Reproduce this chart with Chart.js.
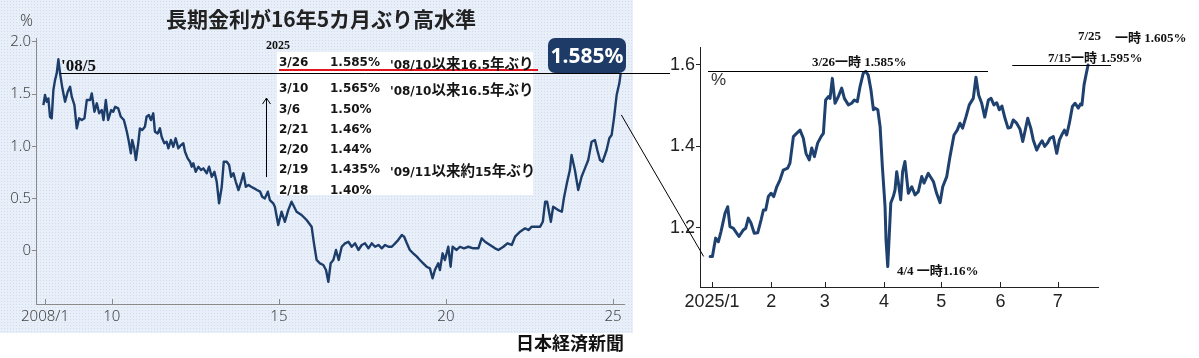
<!DOCTYPE html>
<html><head><meta charset="utf-8">
<script src="https://cdn.jsdelivr.net/npm/chart.js@4.4.1/dist/chart.umd.min.js"></script>
<style>
html,body{margin:0;padding:0;background:#fff;width:1199px;height:358px;overflow:hidden;position:relative}
.abs{position:absolute;white-space:nowrap}
#bgL{left:0;top:0;width:633px;height:333px;background-color:#e8eff9;
 background-image:radial-gradient(#d0dcef 0.8px,transparent 0.9px);background-size:3px 3px;z-index:0}
#wrapL{left:0;top:0;z-index:1}
#wrapR{left:640px;top:0;z-index:1}
#tbl{left:277px;top:52px;width:256px;height:143px;background:#fff;z-index:2}
#redline{left:279px;top:69px;width:259px;height:2px;background:#e3161d;z-index:3}
#box{left:548px;top:38px;width:78px;height:35px;border-radius:7px;background:#1d3b66;color:#fff;
 font:bold 21px 'Noto Sans','DejaVu Sans',sans-serif;text-align:center;line-height:35px;z-index:3}
#ov{position:absolute;left:0;top:0;z-index:6;pointer-events:none}
.lbl{z-index:4;transform:translateY(-50%)}
.ser{font-family:'Liberation Serif','Noto Sans CJK JP',serif;font-weight:bold;color:#111}
.tb{font-family:'DejaVu Sans','Noto Sans CJK JP',sans-serif;font-weight:bold;font-size:12px;color:#151515}
.cj{font-size:14.5px;font-family:'Noto Sans CJK JP',sans-serif;font-weight:bold}
</style></head>
<body>
<div id="bgL" class="abs"></div>
<div id="wrapL" class="abs"><canvas id="cL" width="640" height="340"></canvas></div>
<div id="wrapR" class="abs"><canvas id="cR" width="559" height="320"></canvas></div>
<div id="tbl" class="abs"></div>
<div id="redline" class="abs"></div>
<div id="box" class="abs">1.585%</div>
<canvas id="ov" width="1199" height="358"></canvas>
<script>
// ---------------- data ----------------
// Left chart: 10-year JGB yield, 2008 - 2025 (decimal year, %)
const leftYears = [
2007.95,2008.00,2008.05,2008.10,2008.15,2008.20,2008.25,2008.30,2008.35,2008.40,
2008.45,2008.52,2008.60,2008.68,2008.75,2008.80,2008.88,2008.95,2009.02,2009.10,
2009.18,2009.25,2009.35,2009.40,2009.48,2009.55,2009.62,2009.70,2009.75,2009.82,
2009.89,2009.98,2010.04,2010.10,2010.19,2010.27,2010.36,2010.45,2010.51,2010.57,
2010.61,2010.67,2010.72,2010.79,2010.84,2010.91,2010.99,2011.04,2011.11,2011.17,
2011.24,2011.29,2011.37,2011.44,2011.49,2011.57,2011.64,2011.69,2011.77,2011.84,
2011.91,2011.99,2012.07,2012.14,2012.19,2012.27,2012.34,2012.39,2012.44,2012.51,
2012.59,2012.67,2012.74,2012.84,2012.91,2012.99,2013.07,2013.14,2013.21,2013.29,
2013.35,2013.44,2013.51,2013.57,2013.64,2013.71,2013.79,2013.87,2013.94,2014.01,
2014.09,2014.17,2014.26,2014.34,2014.44,2014.50,2014.58,2014.67,2014.73,2014.83,
2014.88,2014.98,2015.08,2015.18,2015.28,2015.38,2015.53,2015.68,2015.83,2015.98,
2016.05,2016.13,2016.23,2016.33,2016.41,2016.48,2016.55,2016.63,2016.71,2016.79,
2016.88,2016.98,2017.08,2017.18,2017.28,2017.38,2017.48,2017.58,2017.68,2017.78,
2017.88,2017.98,2018.08,2018.18,2018.28,2018.38,2018.48,2018.57,2018.68,2018.75,
2018.83,2018.92,2019.02,2019.13,2019.22,2019.32,2019.42,2019.52,2019.60,2019.67,
2019.77,2019.82,2019.90,2019.97,2020.07,2020.14,2020.20,2020.32,2020.42,2020.54,
2020.67,2020.82,2020.97,2021.07,2021.17,2021.32,2021.47,2021.57,2021.72,2021.84,
2021.97,2022.07,2022.22,2022.37,2022.47,2022.57,2022.67,2022.82,2022.90,2022.97,
2023.03,2023.14,2023.21,2023.36,2023.47,2023.53,2023.62,2023.71,2023.76,2023.86,
2023.96,2024.06,2024.16,2024.26,2024.36,2024.46,2024.53,2024.61,2024.69,2024.81,
2024.89,2024.96,2025.03,2025.11,2025.19,2025.23];
const leftValues = [
1.394,1.490,1.426,1.458,1.282,1.267,1.538,1.633,1.698,1.832,
1.698,1.554,1.426,1.522,1.569,1.474,1.394,1.171,1.267,1.251,
1.267,1.442,1.442,1.506,1.330,1.411,1.315,1.346,1.251,1.442,
1.251,1.346,1.330,1.378,1.363,1.282,1.251,1.139,1.043,0.932,
1.059,0.980,0.868,1.028,1.171,1.155,1.187,1.282,1.299,1.251,
1.315,1.139,1.123,1.171,1.091,1.028,1.043,0.980,1.059,0.995,
1.076,0.980,1.011,1.028,0.947,0.884,0.852,0.804,0.836,0.756,
0.804,0.772,0.788,0.741,0.804,0.708,0.756,0.660,0.454,0.612,
0.852,0.852,0.820,0.708,0.741,0.660,0.581,0.660,0.741,0.612,
0.629,0.612,0.597,0.581,0.565,0.517,0.501,0.565,0.485,0.454,
0.421,0.246,0.373,0.277,0.389,0.469,0.373,0.342,0.294,0.230,
0.071,-0.089,-0.121,-0.137,-0.185,-0.297,-0.121,-0.089,0.007,-0.089,
0.038,0.071,0.086,0.038,0.071,0.007,0.055,0.071,0.023,0.071,
0.038,0.055,0.023,0.055,0.038,0.038,0.071,0.102,0.150,0.134,
0.071,0.007,-0.025,-0.057,-0.089,-0.121,-0.153,-0.169,-0.264,-0.185,
-0.121,-0.185,-0.025,-0.089,0.038,-0.153,0.038,0.007,0.038,0.023,
0.038,0.023,0.023,0.119,0.086,0.055,0.023,0.007,0.038,0.071,
0.055,0.134,0.182,0.214,0.198,0.230,0.230,0.230,0.277,0.469,
0.469,0.277,0.421,0.389,0.373,0.501,0.645,0.772,0.916,0.772,
0.581,0.708,0.788,0.868,1.043,1.059,0.964,0.868,0.852,0.964,
1.076,1.107,1.267,1.490,1.602,1.698];
const leftXTicks = [2008, 2010, 2015, 2020, 2025];
const leftXLabels = ['2008/1', '10', '15', '20', '25'];
const leftYTicks = [0, 0.5, 1, 1.5, 2];

// Right chart: 2025 (day of year, %)
const rightDays = [
0,1.2,2.9,4.3,5.7,7.8,9.2,10.4,12.2,15.1,
17.4,18.6,20.0,21.4,23.1,24.9,26.7,27.9,29.1,30.5,
31.9,33.3,34.9,36.6,38.3,40.6,41.8,43.6,45.3,47.1,
48.8,50.2,51.9,53.2,54.6,56.3,58.1,59.3,60.5,61.9,
62.8,64.0,65.4,67.1,68.9,70.3,72.4,74.1,75.5,77.1,
78.5,80.2,81.5,82.8,84.2,85.5,86.3,87.8,89.0,90.2,
91.6,92.1,93.0,94.6,95.9,96.8,97.7,98.6,99.8,100.8,
102.0,103.8,105.6,107.3,109.0,110.8,112.0,114.2,116.9,118.6,
120.4,121.8,123.9,125.6,127.7,129.4,130.8,132.2,134.0,135.7,
137.8,139.2,140.6,142.2,143.8,145.7,147.1,148.6,150.1,151.4,
152.8,154.4,156.0,157.4,158.7,160.5,162.3,163.7,165.0,166.3,
167.9,169.2,171.0,172.4,173.8,175.2,176.6,178.0,179.7,181.5,
182.9,184.1,185.5,186.7,188.1,189.7,191.1,192.8,193.9,194.7,
195.8,196.8,197.9];
const rightValues = [
1.130,1.130,1.175,1.166,1.191,1.236,1.252,1.203,1.199,1.179,
1.195,1.199,1.224,1.212,1.187,1.188,1.220,1.244,1.244,1.277,
1.285,1.277,1.301,1.318,1.342,1.347,1.359,1.424,1.432,1.440,
1.420,1.383,1.367,1.396,1.375,1.408,1.424,1.432,1.514,1.522,
1.518,1.567,1.506,1.522,1.543,1.518,1.502,1.506,1.514,1.510,
1.547,1.580,1.584,1.575,1.539,1.490,1.494,1.490,1.449,1.350,
1.252,1.171,1.105,1.261,1.277,1.293,1.338,1.310,1.269,1.338,
1.363,1.285,1.301,1.281,1.289,1.326,1.310,1.334,1.314,1.285,
1.262,1.301,1.326,1.375,1.428,1.440,1.457,1.445,1.473,1.502,
1.518,1.570,1.526,1.506,1.472,1.514,1.518,1.502,1.507,1.490,
1.499,1.469,1.445,1.447,1.465,1.457,1.442,1.412,1.440,1.469,
1.445,1.416,1.391,1.404,1.414,1.400,1.408,1.420,1.424,1.383,
1.416,1.428,1.440,1.428,1.457,1.498,1.506,1.494,1.504,1.502,
1.551,1.575,1.600];
const rightXTicks = [1, 32, 60, 91, 121, 152, 182];
const rightXLabels = ['2025/1', '2', '3', '4', '5', '6', '7'];
const rightYTicks = [1.2, 1.4, 1.6];

// Table of 2025 record levels
const tableDates = ['3/26', '3/10', '3/6', '2/21', '2/20', '2/19', '2/18'];
const tableRates = ['1.585%', '1.565%', '1.50%', '1.46%', '1.44%', '1.435%', '1.40%'];
const tableNotes = ["'08/10以来16.5年ぶり", "'08/10以来16.5年ぶり", '', '', '', "'09/11以来約15年ぶり", ''];

// Reference levels (values)
const rightRef1 = {from: -1.1, to: 145.5, value: 1.585};   // 3/26 一時 1.585%
const rightRef2 = {from: 158.2, to: 209.9, value: 1.6};     // 7/15 一時 1.595%
const connector = {fromYear: 2025.25, fromValue: 1.30, toDay: -3.4, toValue: 1.13};
const arrowMark = {year: 2014.61, from: 0.705, to: 1.461};

// ---------------- text labels ----------------
function addLabel(html, x, y, css, align) {
  const d = document.createElement('div');
  d.className = 'abs lbl';
  d.innerHTML = html;
  d.style.cssText += css;
  d.style.top = y + 'px';
  if (align === 'right') { d.style.right = (1199 - x) + 'px'; }
  else if (align === 'center') { d.style.left = x + 'px'; d.style.transform = 'translate(-50%,-50%)'; }
  else { d.style.left = x + 'px'; }
  document.body.appendChild(d);
  return d;
}
const cjWrap = s => s.replace(/([\u3040-\u30ff\u4e00-\u9fff]+)/g, '<span class="cj">$1</span>');

addLabel('%', 20, 20, "font:300 16px 'Noto Sans','DejaVu Sans',sans-serif;color:#444;");
addLabel('長期金利が16年5カ月ぶり高水準', 321, 18, "font:bold 21px 'Noto Sans CJK JP',sans-serif;color:#222;", 'center');
addLabel('2025', 266, 45, "font-size:12px;", '').className += ' ser';
addLabel("'08/5", 61, 66, "font-size:17px;", '').className += ' ser';
const rowY = [62, 88, 109, 129, 149, 169, 190];
tableDates.forEach((d, i) => {
  addLabel(d, 279, rowY[i], '', '').className += ' tb';
  addLabel(tableRates[i], 330, rowY[i], '', '').className += ' tb';
  if (tableNotes[i]) addLabel(cjWrap(tableNotes[i]), 390, rowY[i], '', '').className += ' tb';
});
addLabel('日本経済新聞', 624, 342, "font:bold 18px 'Noto Sans CJK JP',sans-serif;color:#111;", 'right');
const narrow = "'Liberation Sans Narrow','Liberation Sans','Arial Narrow',sans-serif";
addLabel('%', 711, 80, "font:17px " + narrow + ";color:#333;", '');
addLabel('3/26一時 1.585%', 812, 60, "font-size:13px;", '').className += ' ser';
addLabel('4/4 一時1.16%', 897, 269, "font-size:13px;", '').className += ' ser';
addLabel('7/15一時 1.595%', 1048, 56, "font-size:13px;", '').className += ' ser';
addLabel('7/25', 1078, 36, "font-size:13px;", '').className += ' ser';
addLabel('一時 1.605%', 1115, 36, "font-size:13px;", '').className += ' ser';

// ---------------- charts ----------------
const zip = (xs, ys) => xs.slice(0, Math.min(xs.length, ys.length)).map((x, i) => ({x, y: ys[i]}));

// draws short inward tick marks on the x axis (as in the reference)
const innerTicks = {
  id: 'innerTicks',
  afterDraw(chart, args, opts) {
    const s = chart.scales.x, ctx = chart.ctx, b = chart.chartArea.bottom;
    ctx.save(); ctx.strokeStyle = opts.color; ctx.lineWidth = 1;
    s.ticks.forEach(t => {
      const x = Math.round(s.getPixelForValue(t.value)) + 0.5;
      ctx.beginPath(); ctx.moveTo(x, b); ctx.lineTo(x, b - 5); ctx.stroke();
    });
    ctx.restore();
  }
};

const leftChart = new Chart(document.getElementById('cL'), {
  type: 'line',
  data: {datasets: [{data: zip(leftYears, leftValues), borderColor: '#1c3c6a', borderWidth: 2.4,
    pointRadius: 0, tension: 0, borderJoinStyle: 'round', fill: false}]},
  plugins: [innerTicks],
  options: {
    responsive: false, animation: false, devicePixelRatio: 1,
    layout: {padding: {left: 0, right: 16, top: 38, bottom: 0}},
    plugins: {legend: {display: false}, tooltip: {enabled: false}, innerTicks: {color: '#8a8a8a'}},
    scales: {
      x: {type: 'linear', min: 2007.73, max: 2025.33,
        afterBuildTicks: s => { s.ticks = leftXTicks.map(v => ({value: v})); },
        afterFit: s => { s.height = 36; },
        ticks: {autoSkip: false, maxRotation: 0, padding: 4, color: '#444',
          font: {family: "'Noto Sans','DejaVu Sans',sans-serif", size: 15, weight: '300'},
          callback: v => leftXLabels[leftXTicks.indexOf(v)]},
        grid: {drawOnChartArea: false, drawTicks: false, color: '#8a8a8a'},
        border: {color: '#8a8a8a', width: 1}},
      y: {type: 'linear', min: -0.51, max: 2.036,
        afterBuildTicks: s => { s.ticks = leftYTicks.map(v => ({value: v})); },
        afterFit: s => { s.width = 36; },
        ticks: {autoSkip: false, padding: 1, color: '#444',
          font: {family: "'Noto Sans','DejaVu Sans',sans-serif", size: 15, weight: '300'},
          callback: v => v === 0 ? '0' : v.toFixed(1)},
        grid: {drawOnChartArea: false, color: '#8a8a8a', tickLength: 4},
        border: {color: '#8a8a8a', width: 1}}
    }
  }
});

const rightChart = new Chart(document.getElementById('cR'), {
  type: 'line',
  data: {datasets: [{data: zip(rightDays, rightValues), borderColor: '#1f416f', borderWidth: 3,
    pointRadius: 0, tension: 0, borderJoinStyle: 'round', borderCapStyle: 'round', fill: false}]},
  plugins: [innerTicks],
  options: {
    responsive: false, animation: false, devicePixelRatio: 1,
    layout: {padding: {left: 0, right: 101, top: 47, bottom: 0}},
    plugins: {legend: {display: false}, tooltip: {enabled: false}, innerTicks: {color: '#222'}},
    scales: {
      x: {type: 'linear', min: -5.3, max: 203.1,
        afterBuildTicks: s => { s.ticks = rightXTicks.map(v => ({value: v})); },
        afterFit: s => { s.height = 33; },
        ticks: {autoSkip: false, maxRotation: 0, padding: 4, color: '#222',
          font: {family: narrow, size: 18},
          callback: v => rightXLabels[rightXTicks.indexOf(v)]},
        grid: {drawOnChartArea: false, drawTicks: false, color: '#222'},
        border: {color: '#222', width: 1}},
      y: {type: 'linear', min: 1.055, max: 1.644,
        afterBuildTicks: s => { s.ticks = rightYTicks.map(v => ({value: v})); },
        afterFit: s => { s.width = 60; },
        ticks: {autoSkip: false, padding: 1, color: '#222',
          font: {family: narrow, size: 18},
          callback: v => v.toFixed(1)},
        grid: {drawOnChartArea: false, color: '#222', tickLength: 4},
        border: {color: '#222', width: 1}}
    }
  }
});

// ---------------- overlay (reference lines & connectors) ----------------
const RX = 640;
const ov = document.getElementById('ov').getContext('2d');
const L = (x, y) => [leftChart.scales.x.getPixelForValue(x), leftChart.scales.y.getPixelForValue(y)];
const R = (x, y) => [RX + rightChart.scales.x.getPixelForValue(x), rightChart.scales.y.getPixelForValue(y)];
function seg(a, b) {
  ov.beginPath(); ov.moveTo(a[0], a[1]); ov.lineTo(b[0], b[1]); ov.stroke();
}
ov.strokeStyle = '#000'; ov.lineWidth = 1;
// level line from the 2008/5 peak to the latest value
const peakIdx = leftValues.indexOf(Math.max(...leftValues));
const lastY = Math.round(leftChart.scales.y.getPixelForValue(leftValues[leftValues.length - 1])) + 0.5;
const lx0 = leftChart.scales.x.getPixelForValue(leftYears[peakIdx]) + 2;
const lx1 = RX + rightChart.chartArea.left - 30;
seg([lx0, lastY], [lx1, lastY]);
// connector from the left chart to the right chart
seg(L(connector.fromYear, connector.fromValue), R(connector.toDay, connector.toValue));
// arrow
const a0 = L(arrowMark.year, arrowMark.from), a1 = L(arrowMark.year, arrowMark.to);
a0[0] = Math.round(a0[0]) + 0.5; a1[0] = a0[0];
seg(a0, a1);
seg([a1[0] - 4, a1[1] + 6], a1); seg([a1[0] + 4, a1[1] + 6], a1);
// right-chart reference lines
[rightRef1, rightRef2].forEach(r => {
  const p0 = R(r.from, r.value), p1 = R(r.to, r.value);
  const yy = Math.round(p0[1]) + 0.5;
  seg([p0[0], yy], [p1[0], yy]);
});
</script>
</body></html>
